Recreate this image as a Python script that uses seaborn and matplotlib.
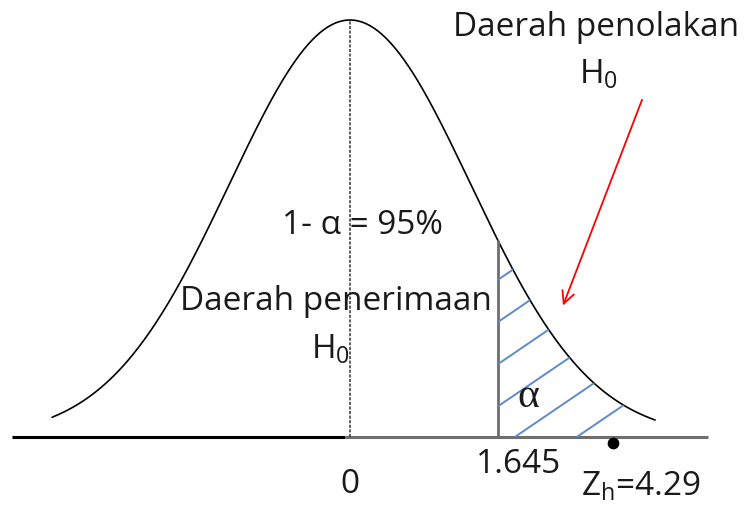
"""Diagram: one-sided z test, acceptance and rejection regions."""

import matplotlib
matplotlib.use("Agg")
import matplotlib.pyplot as plt
import matplotlib.patches as mpatches
import numpy as np
import pandas as pd
import seaborn as sns

# values
z_crit = 1.645
z_h = 4.29
z_h_pos = 2.92          # diagram is not to scale, Z_h marker sits here
conf_level = 95
curve_sigma = 1.34      # spread of the drawn bell curve
curve_range = [-3.31, 3.39]
tick_values = [0, z_crit]
tick_labels = ["0", "1.645"]

sns.set_theme(style="white")
plt.rcParams["font.family"] = ["Open Sans", "DejaVu Sans"]
plt.rcParams["mathtext.fontset"] = "custom"
plt.rcParams["mathtext.rm"] = "Open Sans"
plt.rcParams["mathtext.default"] = "regular"

z = np.linspace(curve_range[0], curve_range[1], 400)
curve = pd.DataFrame({"z": z, "density": np.exp(-z**2 / (2 * curve_sigma**2))})

fig = plt.figure(figsize=(7.44, 5.08), dpi=100)
ax = fig.add_axes([0, 0, 1, 1])
ax.set_xlim(-350 / 90, 394 / 90)
ax.set_ylim(-71 / 417, 437 / 417)
ax.set_axis_off()

sns.lineplot(data=curve, x="z", y="density", color="black", lw=1.2, ax=ax)

# baseline
ax.plot([-3.76, -0.06], [0, 0], color="black", lw=2.2, solid_capstyle="butt")
ax.plot([-0.06, 3.98], [0, 0], color="#6e6e6e", lw=2.2, solid_capstyle="butt")

# center line and critical value line
ax.plot([0, 0], [0, 1], color="#333333", lw=1.1, ls=(0, (2, 1)))
y_crit = np.exp(-z_crit**2 / (2 * curve_sigma**2))
ax.plot([z_crit, z_crit], [0, y_crit], color="#6e6e6e", lw=2)

# hatched rejection region
tail = curve[curve["z"] >= z_crit]
verts = [(z_crit, 0), (z_crit, y_crit)] + list(zip(tail["z"], tail["density"])) + [(tail["z"].iloc[-1], 0)]
region = mpatches.Polygon(verts, closed=True, facecolor="none", edgecolor="none")
ax.add_patch(region)
slope = 0.68 * 90 / 417
spacing = 62 / 90
for c in np.arange(2.52, -2.0, -spacing):
    xs = np.array([c, c + 3.0])
    ln, = ax.plot(xs, slope * (xs - c), color="#6089cc", lw=1.4)
    ln.set_clip_path(region)

# Z_h marker
ax.scatter([z_h_pos], [-0.014], s=55, color="black", zorder=5)

# labels
fs = 24
tc = "#1a1a1a"
ax.text(2.73, 0.981, "Daerah penolakan", ha="center", va="center", fontsize=fs, color=tc)
ax.text(2.76, 0.868, "H$_0$", ha="center", va="center", fontsize=fs, color=tc)
ax.text(0.14, 0.508, f"1- α = {conf_level}%", ha="center", va="center", fontsize=fs, color=tc)
ax.text(-0.16, 0.324, "Daerah penerimaan", ha="center", va="center", fontsize=fs, color=tc)
ax.text(-0.22, 0.209, "H$_0$", ha="center", va="center", fontsize=fs, color=tc)
ax.text(1.98, 0.096, "α", ha="center", va="center", fontsize=fs + 6, color=tc,
        family=["Liberation Serif", "DejaVu Serif"])
ax.text(tick_values[0], -0.113, tick_labels[0], ha="center", va="center", fontsize=fs, color=tc)
ax.text(1.87, -0.065, tick_labels[1], ha="center", va="center", fontsize=fs, color=tc)
ax.text(3.23, -0.12, f"Z$_h$={z_h}", ha="center", va="center", fontsize=fs, color=tc)

# arrow to rejection region
ax.annotate("", xy=(2.356, 0.309), xytext=(3.256, 0.815),
            arrowprops=dict(arrowstyle="->", color="red", lw=1.3, mutation_scale=22))

fig.savefig("out.png", dpi=100)
plt.close(fig)
